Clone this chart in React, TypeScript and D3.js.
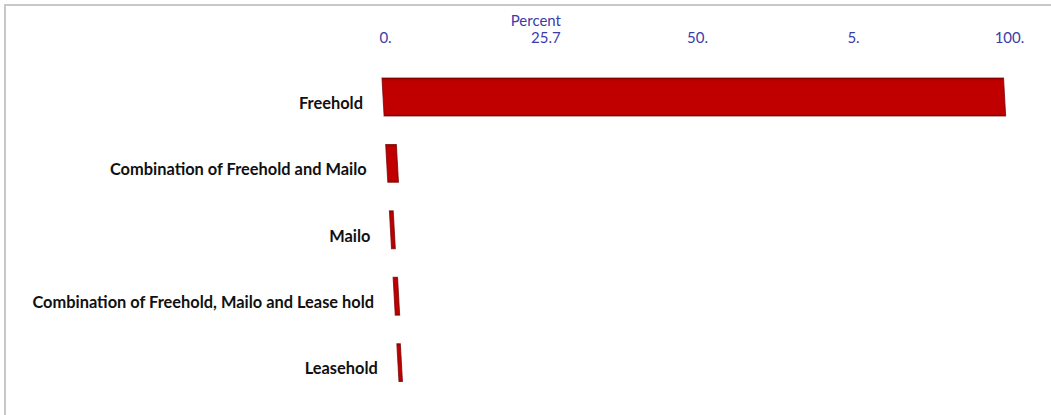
import React from "react";
import * as d3 from "d3";

const categories = [
  "Freehold",
  "Combination of Freehold and Mailo",
  "Mailo",
  "Combination of Freehold, Mailo and Lease hold",
  "Leasehold",
];
const values = [99.6, 1.7, 0.6, 0.7, 0.55];
const tickValues = [0, 25.7, 50, 75, 100];
const tickLabels = ["0.", "25.7", "50.", "5.", "100."];
const axisTitle = "Percent";

const W = 1051;
const H = 415;
const SLOPE = 0.056;

export default function App() {
  const x = d3.scaleLinear().domain([0, 100]).range([382, 1006]);
  const y = d3
    .scaleBand<string>()
    .domain(categories)
    .range([63.8, 395.8])
    .paddingInner(0.43)
    .paddingOuter(0.215);
  const y0 = y(categories[0])!;
  const shift = (yy: number) => (yy - y0) * SLOPE;
  const bw = y.bandwidth();

  const barPath = (v: number, c: string) => {
    const top = y(c)!;
    const bot = top + bw;
    const p = d3.path();
    p.moveTo(x(0) + shift(top), top);
    p.lineTo(x(v) + shift(top), top);
    p.lineTo(x(v) + shift(bot), bot);
    p.lineTo(x(0) + shift(bot), bot);
    p.closePath();
    return p.toString();
  };

  return (
    <svg
      width={W}
      height={H}
      style={{ position: "absolute", left: 0, top: 0, background: "#fff" }}
    >
      <defs>
        <filter id="soft" x="-20%" y="-20%" width="140%" height="140%">
          <feGaussianBlur stdDeviation="0.6" />
        </filter>
        <linearGradient id="barGrad" x1="0" y1="0" x2="0" y2="1">
          <stop offset="0" stopColor="#9a0000" />
          <stop offset="0.08" stopColor="#c00000" />
          <stop offset="0.92" stopColor="#c00000" />
          <stop offset="1" stopColor="#a80000" />
        </linearGradient>
      </defs>
      <line x1={4} y1={5} x2={W} y2={5} stroke="#c8c8c8" strokeWidth={2} />
      <line x1={5} y1={4} x2={5} y2={H} stroke="#c8c8c8" strokeWidth={2} />

      <text
        x={561}
        y={26}
        textAnchor="end"
        fontFamily="Lato, 'Open Sans', sans-serif"
        fontSize={15}
        fill="#3c3ca8"
      >
        {axisTitle}
      </text>
      {tickValues.map((t, i) => (
        <text
          key={i}
          x={x(t) + 3.5}
          y={43}
          textAnchor="middle"
          fontFamily="Lato, 'Open Sans', sans-serif"
          fontSize={15}
          fill="#3c3ca8"
        >
          {tickLabels[i]}
        </text>
      ))}

      {categories.map((c, i) => {
        const cy = y(c)! + bw / 2;
        return (
          <g key={c}>
            <path
              d={barPath(values[i], c)}
              fill="url(#barGrad)"
              stroke="#7a0000"
              strokeWidth={1.1}
              strokeOpacity={0.75}
              filter="url(#soft)"
            />
            <text
              x={363 + shift(cy - bw / 2)}
              y={cy + 11.8}
              textAnchor="end"
              fontFamily="Lato, 'Open Sans', sans-serif"
              fontWeight="bold"
              fontSize={16.4}
              fill="#111"
            >
              {c}
            </text>
          </g>
        );
      })}
    </svg>
  );
}
